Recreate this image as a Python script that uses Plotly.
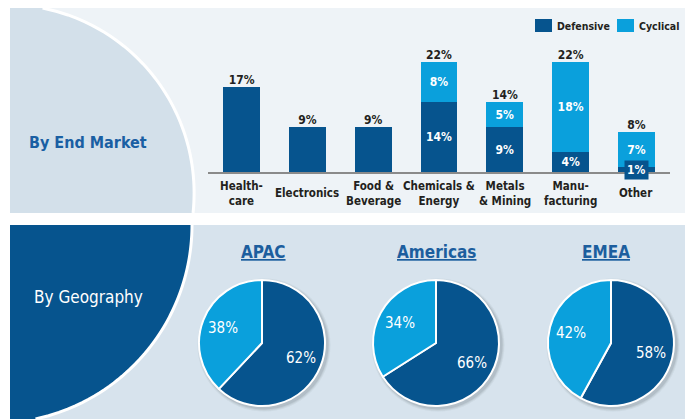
import numpy as np
import plotly.graph_objects as go

# ---------------- data ----------------
categories = ["Healthcare", "Electronics", "Food & Beverage", "Chemicals & Energy",
              "Metals & Mining", "Manufacturing", "Other"]
category_labels = ["Health-<br>care", "Electronics", "Food &<br>Beverage", "Chemicals &<br>Energy",
                   "Metals<br>& Mining", "Manu-<br>facturing", "Other"]
defensive = [17, 9, 9, 14, 9, 4, 1]
cyclical = [0, 0, 0, 8, 5, 18, 7]
series_names = ["Defensive", "Cyclical"]

regions = ["APAC", "Americas", "EMEA"]
region_defensive = [62, 66, 58]
region_cyclical = [38, 34, 42]

# ---------------- style ----------------
# The page body has an 8px margin, so the figure is placed at (8, 8) of the window.
OFF = 8
W, H = 693 - OFF, 419 - OFF
DARK = "#06548e"
LIGHT = "#0aa0dc"
TXT = "#231f20"
TITLE_BLUE = "#1c5e9e"
FONT = "DejaVu Sans Condensed, DejaVu Sans, sans-serif"


def px(x):
    return (x - OFF) / W


def py(y):
    return 1 - (y - OFF) / H


def arc_points(cx, cy, r, y0, y1, n=60):
    ys = np.linspace(y0, y1, n)
    xs = cx + np.sqrt(np.maximum(r ** 2 - (ys - cy) ** 2, 0))
    return xs, ys


def path_from(points, close=True):
    s = "M" + " L".join(f"{px(x):.5f},{py(y):.5f}" for x, y in points)
    return s + (" Z" if close else "")


def note(x, y, text, font, **kw):
    d = dict(x=px(x), y=py(y), xref="paper", yref="paper", text=text, showarrow=False,
             xanchor="center", yanchor="middle", font=font)
    d.update(kw)
    return d


fig = go.Figure()

totals = [d + c for d, c in zip(defensive, cyclical)]
def_text = [f"{d}%" if c > 0 and d >= 3 else "" for d, c in zip(defensive, cyclical)]
cyc_text = [f"{c}%" if c > 0 else "" for c in cyclical]

fig.add_trace(go.Bar(x=categories, y=defensive, name=series_names[0], marker_color=DARK,
                     marker_line_width=0, width=0.56, text=def_text, textposition="inside",
                     insidetextanchor="middle",
                     textfont=dict(color="white", size=12, family=FONT, weight="bold"),
                     hoverinfo="skip", showlegend=False))
fig.add_trace(go.Bar(x=categories, y=cyclical, name=series_names[1], marker_color=LIGHT,
                     marker_line_width=0, width=0.56, text=cyc_text, textposition="inside",
                     insidetextanchor="middle",
                     textfont=dict(color="white", size=12, family=FONT, weight="bold"),
                     hoverinfo="skip", showlegend=False))
fig.add_trace(go.Scatter(x=categories, y=totals, mode="text",
                         text=[f"{t}%" for t in totals], textposition="top center",
                         textfont=dict(color=TXT, size=12, family=FONT, weight="bold"),
                         showlegend=False, hoverinfo="skip", cliponaxis=False))

annotations = []
shapes = []
# small defensive segments that cannot hold their label
for cat, d, c in zip(categories, defensive, cyclical):
    if c > 0 and d < 3:
        annotations.append(dict(x=cat, y=d / 2, xref="x", yref="y", text=f"{d}%",
                                showarrow=False, bgcolor=DARK, borderpad=2,
                                xanchor="center", yanchor="middle",
                                font=dict(color="white", size=12, family=FONT, weight="bold")))

# category labels
for cat, lab in zip(categories, category_labels):
    annotations.append(dict(x=cat, y=py(193), xref="x", yref="paper", text=lab,
                            showarrow=False, xanchor="center", yanchor="middle",
                            font=dict(color=TXT, size=11.5, family=FONT, weight="bold")))

# legend (drawn as swatches + labels)
legend_font = dict(color=TXT, size=10.5, family=FONT, weight="bold")
for name, col, sx, tx in zip(series_names, [DARK, LIGHT], [535, 617], [555, 637]):
    shapes.append(dict(type="rect", xref="paper", yref="paper", x0=px(sx), x1=px(sx + 17),
                       y0=py(32), y1=py(19), fillcolor=col, line_width=0))
    annotations.append(note(tx, 26, name, legend_font, xanchor="left"))

# pies
pie_cx = [262, 436, 611]
title_cx = [263, 436, 606]
pie_cy = 343
R = 63
shadow = []
for reg, d, c, cx, tcx in zip(regions, region_defensive, region_cyclical, pie_cx, title_cx):
    # soft drop shadow behind the pie
    for grow, alpha in [(3.5, 0.05), (2.5, 0.07), (1.5, 0.1)]:
        sr = R + grow
        shadow.append(dict(type="circle", xref="paper", yref="paper",
                           x0=px(cx + 2 - sr), x1=px(cx + 2 + sr),
                           y0=py(pie_cy + 2 + sr), y1=py(pie_cy + 2 - sr),
                           fillcolor=f"rgba(40,50,60,{alpha})", line_width=0, layer="below"))
    fig.add_trace(go.Pie(values=[d, c], labels=series_names,
                         marker=dict(colors=[DARK, LIGHT], line=dict(color="white", width=2)),
                         sort=False, direction="clockwise", rotation=0,
                         textinfo="none", showlegend=False, hoverinfo="skip",
                         domain=dict(x=[px(cx - R), px(cx + R)], y=[py(pie_cy + R), py(pie_cy - R)])))
    # slice labels placed along each slice's mid angle (clockwise from 12 o'clock)
    start = 0.0
    for v in (d, c):
        mid = (start + v / 2) / (d + c) * 2 * np.pi
        start += v
        lx = cx + 0.66 * R * np.sin(mid)
        ly = pie_cy - 0.66 * R * np.cos(mid)
        annotations.append(note(lx, ly, f"{v}%", dict(color="white", size=15, family=FONT)))
    annotations.append(note(tcx, 252, f"<u>{reg}</u>",
                            dict(color=TITLE_BLUE, size=17, family=FONT, weight="bold")))

annotations.append(note(88, 143, "By End Market",
                        dict(color="#1a5fa3", size=16, family=FONT, weight="bold")))
annotations.append(note(88, 297, "By Geography", dict(color="white", size=17, family=FONT)))

# ---------------- background shapes ----------------
bg = []
bg.append(dict(type="rect", xref="paper", yref="paper", x0=px(10), x1=1, y0=py(213), y1=py(8),
               fillcolor="#eef3f7", line_width=0, layer="below"))
bg.append(dict(type="rect", xref="paper", yref="paper", x0=px(10), x1=1, y0=0, y1=py(225),
               fillcolor="#d7e3ed", line_width=0, layer="below"))

# top quarter shape
xs, ys = arc_points(5.4, 193, 188.7, 8, 213)
pts = [(10, 8)] + list(zip(xs, ys)) + [(10, 213)]
bg.append(dict(type="path", xref="paper", yref="paper", path=path_from(pts),
               fillcolor="#d3e0ea", line_width=0, layer="below"))
bg.append(dict(type="path", xref="paper", yref="paper", path=path_from(list(zip(xs, ys)), close=False),
               line=dict(color="white", width=3), layer="below"))

# bottom quarter shape
xs2, ys2 = arc_points(-6.5, 225, 198.5, 225, 419)
pts2 = [(10, 225)] + list(zip(xs2, ys2)) + [(10, 419)]
bg.append(dict(type="path", xref="paper", yref="paper", path=path_from(pts2),
               fillcolor=DARK, line_width=0, layer="below"))
bg.append(dict(type="path", xref="paper", yref="paper", path=path_from(list(zip(xs2, ys2)), close=False),
               line=dict(color="white", width=3), layer="below"))

fig.update_layout(
    width=W, height=H, margin=dict(l=0, r=0, t=0, b=0),
    paper_bgcolor="white", plot_bgcolor="rgba(0,0,0,0)",
    barmode="stack", showlegend=False,
    font=dict(family=FONT, color=TXT),
    xaxis=dict(domain=[px(208), px(670)], range=[-0.51, 6.51], showticklabels=False,
               showgrid=False, zeroline=False, showline=True, linecolor="#8a8a8a", linewidth=2,
               ticks="", fixedrange=True),
    yaxis=dict(domain=[py(172), py(32)], range=[0, 28], visible=False, fixedrange=True),
    annotations=annotations, shapes=bg + shadow + shapes,
)

fig.write_html("out.html")
